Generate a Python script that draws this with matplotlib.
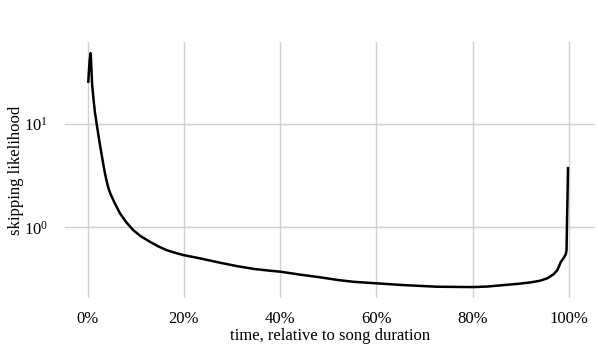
import numpy as np
import matplotlib
matplotlib.use("Agg")
import matplotlib.pyplot as plt
from matplotlib.ticker import FixedLocator, FuncFormatter

# time as percent of song, skipping likelihood
time_pct = [0.12, 0.4, 0.62, 0.92, 1.2, 1.48, 1.89, 2.52, 3.2, 3.55, 3.9, 4.25, 4.6, 5.6,
            6.68, 8.0, 9.45, 11.0, 12.9, 14.6, 16.4, 18.2, 19.85, 23.3, 27.5, 31.0, 34.6,
            37.9, 40.0, 44.0, 48.3, 52.0, 55.2, 60.0, 65.6, 72.6, 80.0, 83.0, 86.4,
            89.5, 92.0, 94.0, 95.5, 96.8, 97.6, 98.3, 99.0, 99.35, 99.5, 99.6, 99.7,
            99.8]
skip_like = [25.9, 42.0, 48.9, 24.1, 17.5, 13.25, 9.84, 6.4, 4.18, 3.4, 2.85, 2.45, 2.18, 1.72,
             1.37, 1.12, 0.94, 0.82, 0.725, 0.655, 0.60, 0.565, 0.538, 0.50, 0.453, 0.42, 0.394,
             0.379, 0.371, 0.348, 0.327, 0.308, 0.296, 0.286, 0.275, 0.265, 0.263, 0.266, 0.275,
             0.283, 0.292, 0.303, 0.32, 0.35, 0.385, 0.46, 0.512, 0.55, 0.6, 1.18, 2.0,
             3.74]
xticks = [0, 20, 40, 60, 80, 100]
yticks = [1, 10]

plt.rcParams['font.family'] = ['Liberation Serif', 'DejaVu Serif']
plt.rcParams['mathtext.fontset'] = 'custom'
plt.rcParams['mathtext.rm'] = 'Liberation Serif'
plt.rcParams['mathtext.it'] = 'Liberation Serif:italic'

fig = plt.figure(figsize=(5.98, 3.48), dpi=100)
ax = fig.add_axes([0.1087, 0.1428, 0.887, 0.736])

ax.plot(time_pct, skip_like, color='black', lw=1.8, solid_joinstyle='round')

ax.set_yscale('log')
ax.set_xlim(-4.72, 105.5)
ax.set_ylim(10 ** -0.689, 10 ** 1.796)

ax.xaxis.set_major_locator(FixedLocator(xticks))
ax.xaxis.set_major_formatter(FuncFormatter(lambda v, p: "%d%%" % v))
ax.yaxis.set_major_locator(FixedLocator(yticks))
ax.yaxis.set_minor_locator(FixedLocator([]))
ax.yaxis.set_major_formatter(FuncFormatter(lambda v, p: r"$\mathregular{10^{%d}}$" % int(round(np.log10(v)))))

ax.grid(True, color='#d0d0d0', lw=1.0)
ax.set_axisbelow(True)
for s in ax.spines.values():
    s.set_visible(False)
ax.tick_params(length=0, labelsize=12)
ax.tick_params(axis='x', pad=9)
ax.tick_params(axis='y', pad=12)

ax.set_xlabel("time, relative to song duration", fontsize=12, labelpad=1)
ax.set_ylabel("skipping likelihood", fontsize=12, labelpad=0)

fig.savefig("out.png", dpi=100)
